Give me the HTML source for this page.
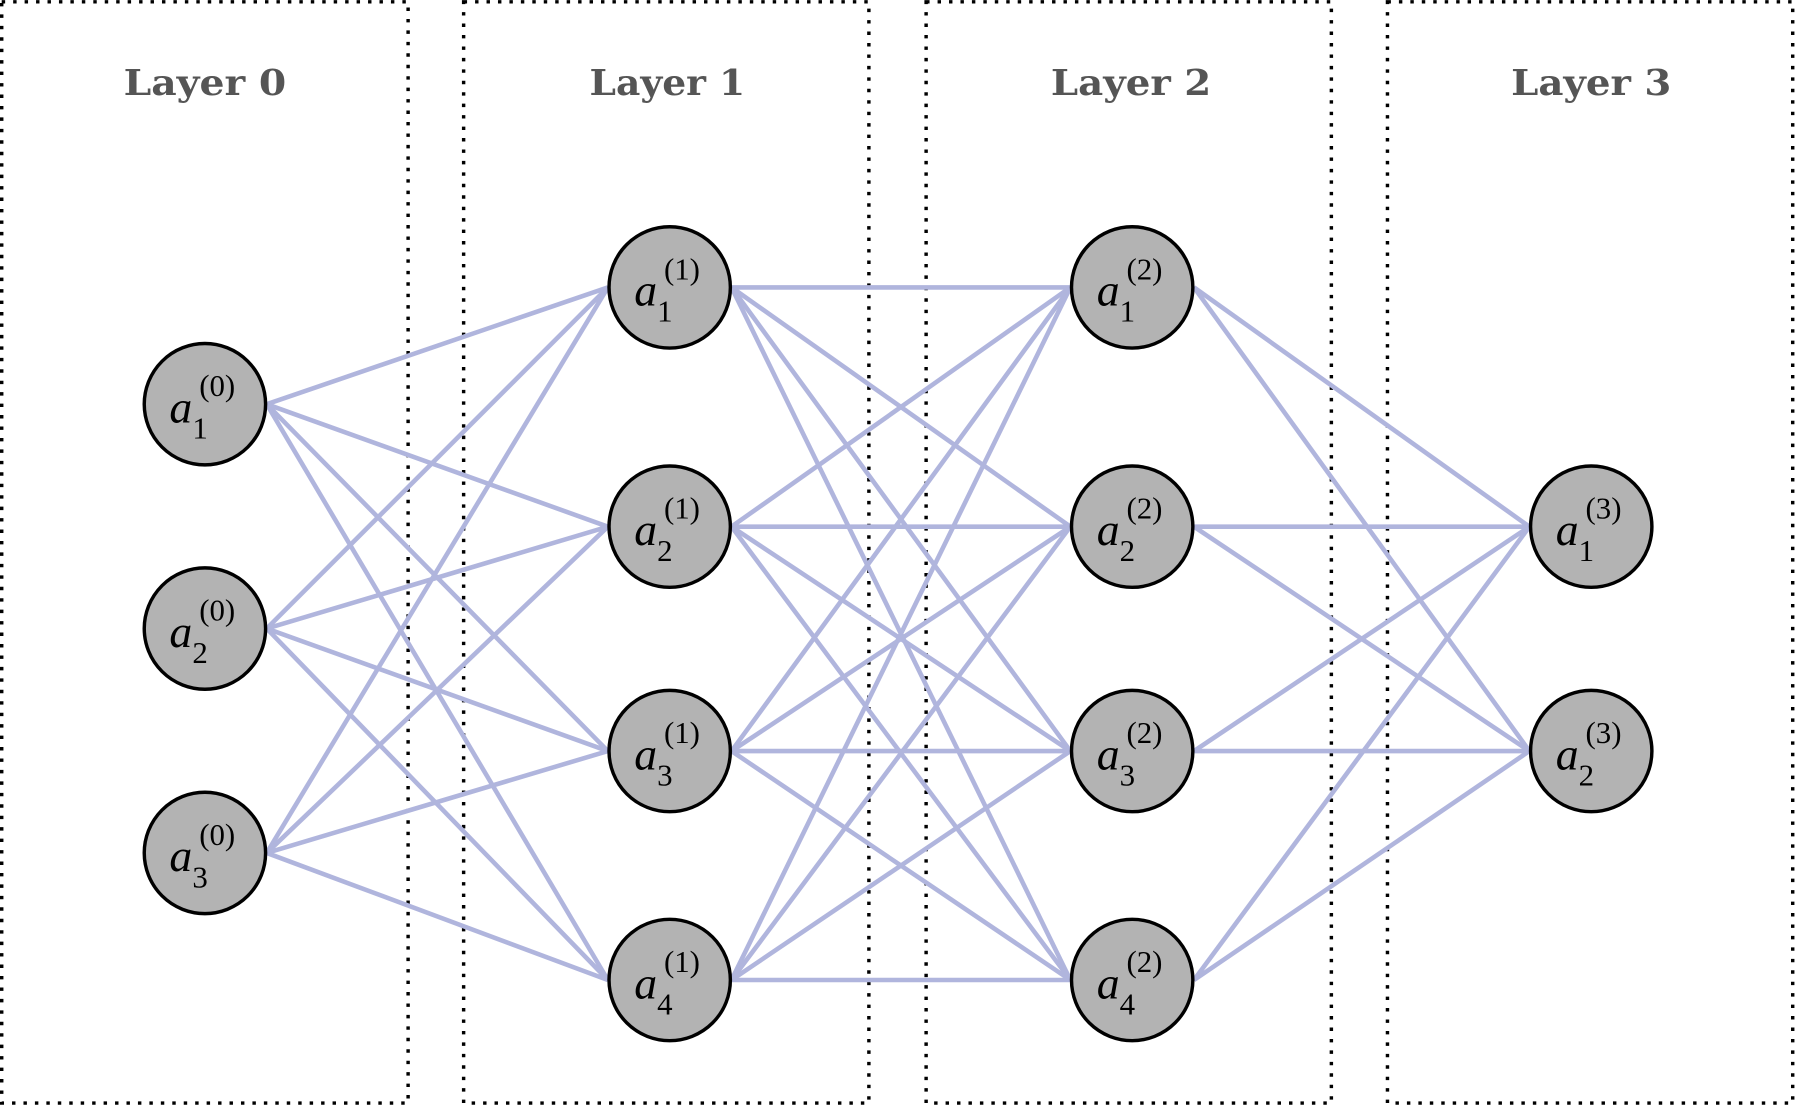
<!DOCTYPE html>
<html><head><meta charset="utf-8"><style>html,body{margin:0;padding:0;background:#fff}svg{display:block}</style></head>
<body>
<svg width="1795" height="1106" viewBox="0 0 1568 966" xmlns="http://www.w3.org/2000/svg">
<g fill="none" stroke="#000" stroke-width="3" stroke-dasharray="3 7">
<rect x="1.5" y="1.5" width="355" height="962"/>
<rect x="405" y="1.5" width="354" height="962"/>
<rect x="809" y="1.5" width="354" height="962"/>
<rect x="1212" y="1.5" width="354" height="962"/>
</g>
<g font-family="DejaVu Serif, Liberation Serif, serif" font-weight="bold" font-size="31" fill="#555" text-anchor="middle">
<text x="179" y="83" textLength="142" lengthAdjust="spacingAndGlyphs">Layer 0</text>
<text x="583" y="83" textLength="136" lengthAdjust="spacingAndGlyphs">Layer 1</text>
<text x="988" y="83" textLength="140" lengthAdjust="spacingAndGlyphs">Layer 2</text>
<text x="1390" y="83" textLength="140" lengthAdjust="spacingAndGlyphs">Layer 3</text>
</g>
<g stroke="#b0b5dd" stroke-width="4">
<line x1="233" y1="353" x2="531" y2="251"/><line x1="233" y1="353" x2="531" y2="460"/><line x1="233" y1="353" x2="531" y2="656"/><line x1="233" y1="353" x2="531" y2="856"/>
<line x1="233" y1="549" x2="531" y2="251"/><line x1="233" y1="549" x2="531" y2="460"/><line x1="233" y1="549" x2="531" y2="656"/><line x1="233" y1="549" x2="531" y2="856"/>
<line x1="233" y1="745" x2="531" y2="251"/><line x1="233" y1="745" x2="531" y2="460"/><line x1="233" y1="745" x2="531" y2="656"/><line x1="233" y1="745" x2="531" y2="856"/>
<line x1="639" y1="251" x2="935" y2="251"/><line x1="639" y1="251" x2="935" y2="460"/><line x1="639" y1="251" x2="935" y2="656"/><line x1="639" y1="251" x2="935" y2="856"/>
<line x1="639" y1="460" x2="935" y2="251"/><line x1="639" y1="460" x2="935" y2="460"/><line x1="639" y1="460" x2="935" y2="656"/><line x1="639" y1="460" x2="935" y2="856"/>
<line x1="639" y1="656" x2="935" y2="251"/><line x1="639" y1="656" x2="935" y2="460"/><line x1="639" y1="656" x2="935" y2="656"/><line x1="639" y1="656" x2="935" y2="856"/>
<line x1="639" y1="856" x2="935" y2="251"/><line x1="639" y1="856" x2="935" y2="460"/><line x1="639" y1="856" x2="935" y2="656"/><line x1="639" y1="856" x2="935" y2="856"/>
<line x1="1043" y1="251" x2="1336" y2="460"/><line x1="1043" y1="251" x2="1336" y2="656"/>
<line x1="1043" y1="460" x2="1336" y2="460"/><line x1="1043" y1="460" x2="1336" y2="656"/>
<line x1="1043" y1="656" x2="1336" y2="460"/><line x1="1043" y1="656" x2="1336" y2="656"/>
<line x1="1043" y1="856" x2="1336" y2="460"/><line x1="1043" y1="856" x2="1336" y2="656"/>
</g>
<g fill="#b3b3b3" stroke="#000" stroke-width="3">
<circle cx="179" cy="353" r="53"/><circle cx="179" cy="549" r="53"/><circle cx="179" cy="745" r="53"/>
<circle cx="585" cy="251" r="53"/><circle cx="585" cy="460" r="53"/><circle cx="585" cy="656" r="53"/><circle cx="585" cy="856" r="53"/>
<circle cx="989" cy="251" r="53"/><circle cx="989" cy="460" r="53"/><circle cx="989" cy="656" r="53"/><circle cx="989" cy="856" r="53"/>
<circle cx="1390" cy="460" r="53"/><circle cx="1390" cy="656" r="53"/>
</g>
<g font-family="Liberation Serif, serif" fill="#000">
<g font-style="italic" font-size="40">
<text x="148" y="369">a</text><text x="148" y="565">a</text><text x="148" y="761">a</text>
<text x="554" y="267">a</text><text x="554" y="476">a</text><text x="554" y="672">a</text><text x="554" y="872">a</text>
<text x="958" y="267">a</text><text x="958" y="476">a</text><text x="958" y="672">a</text><text x="958" y="872">a</text>
<text x="1359" y="476">a</text><text x="1359" y="672">a</text>
</g>
<g font-size="27">
<text x="168" y="383">1</text><text x="168" y="579">2</text><text x="168" y="775">3</text>
<text x="574" y="281">1</text><text x="574" y="490">2</text><text x="574" y="686">3</text><text x="574" y="886">4</text>
<text x="978" y="281">1</text><text x="978" y="490">2</text><text x="978" y="686">3</text><text x="978" y="886">4</text>
<text x="1379" y="490">1</text><text x="1379" y="686">2</text>
<text x="174" y="346">(0)</text><text x="174" y="542">(0)</text><text x="174" y="738">(0)</text>
<text x="580" y="244">(1)</text><text x="580" y="453">(1)</text><text x="580" y="649">(1)</text><text x="580" y="849">(1)</text>
<text x="984" y="244">(2)</text><text x="984" y="453">(2)</text><text x="984" y="649">(2)</text><text x="984" y="849">(2)</text>
<text x="1385" y="453">(3)</text><text x="1385" y="649">(3)</text>
</g>
</g>
</svg>
</body></html>
